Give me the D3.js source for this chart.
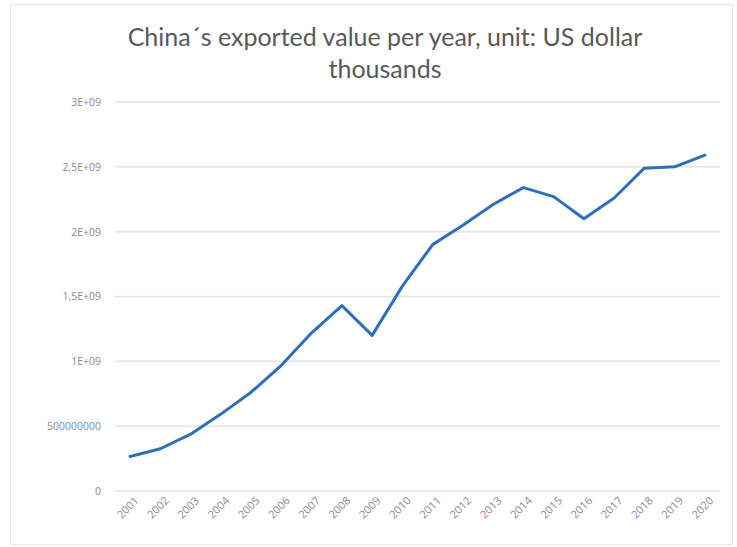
<!DOCTYPE html>
<html>
<head>
<meta charset="utf-8">
<script src="https://cdn.jsdelivr.net/npm/d3@7"></script>
<style>
body { margin: 0; background: #fff; }
text { font-family: "Open Sans", "Liberation Sans", sans-serif; }
.tick text { fill: #8a8a8a; font-size: 10.5px; }
.grid line { stroke: #e3e3e3; stroke-width: 1.5px; }
</style>
</head>
<body>
<script>
// years and exported value (US dollar thousands)
var years = ["2001","2002","2003","2004","2005","2006","2007","2008","2009","2010",
             "2011","2012","2013","2014","2015","2016","2017","2018","2019","2020"];
var values = [2.66e8, 3.26e8, 4.38e8, 5.93e8, 7.62e8, 9.69e8, 1.22e9, 1.43e9, 1.20e9, 1.58e9,
              1.90e9, 2.05e9, 2.21e9, 2.34e9, 2.27e9, 2.10e9, 2.26e9, 2.49e9, 2.50e9, 2.59e9];
var yTicks = [0, 5e8, 1e9, 1.5e9, 2e9, 2.5e9, 3e9];
var yTickLabels = ["0", "500000000", "1E+09", "1,5E+09", "2E+09", "2,5E+09", "3E+09"];

var W = 737, H = 547;
var svg = d3.select("body").append("svg").attr("width", W).attr("height", H);

svg.append("rect").attr("x", 10.5).attr("y", 4.5).attr("width", 722).attr("height", 540)
  .attr("fill", "#fff").attr("stroke", "#e6e6e6");

var m = {left: 115, right: 720, top: 102, bottom: 491};

var x = d3.scaleBand().domain(years).range([m.left, m.right]);
var y = d3.scaleLinear().domain([0, 3e9]).range([m.bottom, m.top]);

// title
var title = svg.append("text").attr("text-anchor", "middle")
  .attr("fill", "#595959").style("font-family", "Lato, sans-serif").style("font-size", "25px");
title.append("tspan").attr("x", 385).attr("y", 46).text("China´s exported value per year, unit: US dollar");
title.append("tspan").attr("x", 385).attr("y", 78).text("thousands");

// gridlines
svg.append("g").attr("class", "grid")
  .selectAll("line").data(yTicks).join("line")
  .attr("x1", m.left).attr("x2", m.right)
  .attr("y1", d => y(d)).attr("y2", d => y(d));

// y axis labels
var yAxis = d3.axisLeft(y).tickValues(yTicks)
  .tickFormat((d, i) => yTickLabels[i]).tickSize(0).tickPadding(14);
svg.append("g").attr("transform", "translate(" + m.left + ",0)").call(yAxis)
  .call(g => g.select(".domain").remove());

// x axis labels
var xAxis = d3.axisBottom(x).tickSize(0).tickPadding(0);
svg.append("g").attr("transform", "translate(0," + m.bottom + ")").call(xAxis)
  .call(g => g.select(".domain").remove())
  .selectAll(".tick text")
  .style("font-size", "11px")
  .attr("text-anchor", "end")
  .attr("dy", "0.3em")
  .attr("transform", "translate(7,8) rotate(-45)");

// line
var line = d3.line().x((d, i) => x(years[i]) + x.bandwidth() / 2).y(d => y(d));
svg.append("path").datum(values)
  .attr("fill", "none").attr("stroke", "#2F6FB8").attr("stroke-width", 3)
  .attr("stroke-linejoin", "round").attr("stroke-linecap", "round")
  .attr("d", line);
</script>
</body>
</html>
